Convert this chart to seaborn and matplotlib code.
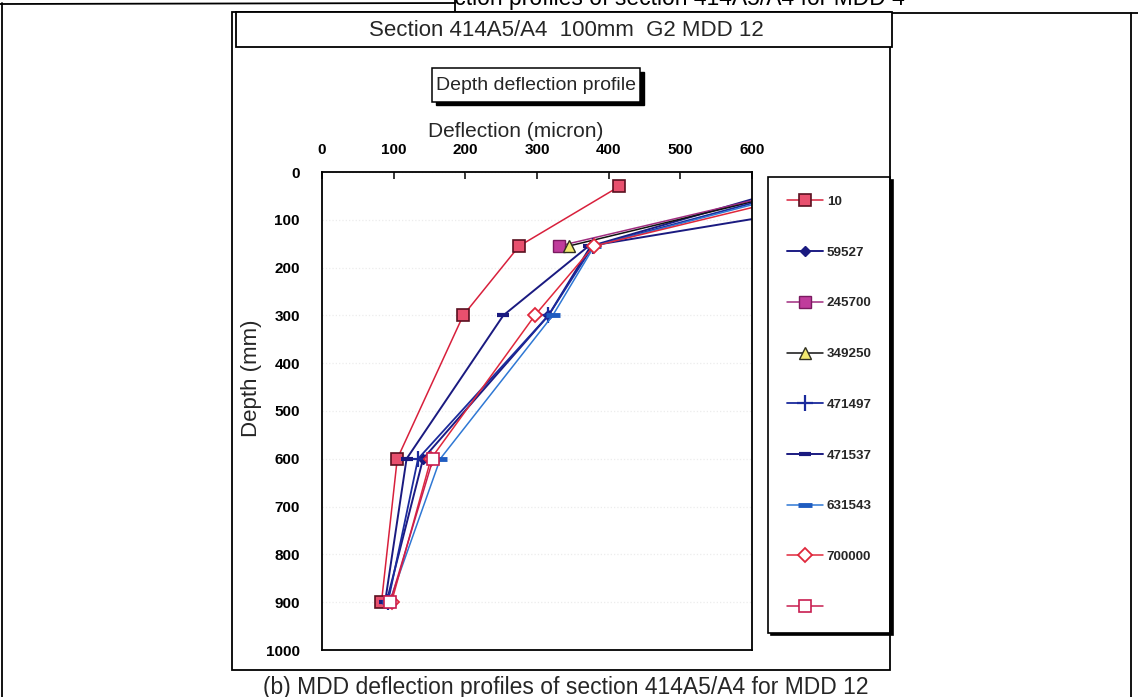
import numpy as np
import pandas as pd
import matplotlib
matplotlib.use("Agg")
import matplotlib.pyplot as plt
from matplotlib.patches import Rectangle
from matplotlib.lines import Line2D
import seaborn as sns

# ---------------- data ----------------
depth = [30, 155, 300, 600, 900]
series_names = ["10", "59527", "245700", "349250", "471497", "471537", "631543", "700000", ""]
defl_10 = [415, 275, 197, 105, 83]
defl_59527 = [662, 375, 316, 141, 90]
defl_245700 = [685, 330, np.nan, np.nan, np.nan]
defl_349250 = [690, 344, np.nan, np.nan, np.nan]
defl_471497 = [687, 378, 316, 134, 92]
defl_471537 = [877, 372, 253, 118, 88]
defl_631543 = [698, 380, 322, 165, 94]
defl_700000 = [722, 379, 297, 152, 97]
defl_blank = [np.nan, np.nan, np.nan, 155, 95]
x_ticks = [0, 100, 200, 300, 400, 500, 600]
y_ticks = [0, 100, 200, 300, 400, 500, 600, 700, 800, 900, 1000]

series_values = [defl_10, defl_59527, defl_245700, defl_349250, defl_471497,
                 defl_471537, defl_631543, defl_700000, defl_blank]

styles = [
    dict(color="#d8203c", marker="s", markersize=9, markerfacecolor="#e8506e", markeredgecolor="#5a1020", markeredgewidth=1.2, linewidth=1.1),
    dict(color="#1c1c84", marker="D", markersize=5.5, markerfacecolor="#1a1a80", markeredgecolor="#1a1a80", markeredgewidth=1.0, linewidth=1.4),
    dict(color="#a02c80", marker="s", markersize=8.5, markerfacecolor="#c03c9c", markeredgecolor="#7a1a60", markeredgewidth=1.0, linewidth=1.1),
    dict(color="#111111", marker="^", markersize=9, markerfacecolor="#f2e870", markeredgecolor="#303020", markeredgewidth=1.0, linewidth=1.1),
    dict(color="#1a2a9c", marker="+", markersize=11, markeredgecolor="#1a2a9c", markeredgewidth=1.6, linewidth=1.3),
    dict(color="#1a1a80", marker="_", markersize=8, markeredgecolor="#1a1a80", markeredgewidth=3, linewidth=1.4),
    dict(color="#2f78d4", marker="_", markersize=10, markeredgecolor="#1f5cc0", markeredgewidth=3.5, linewidth=1.1),
    dict(color="#e0283c", marker="D", markersize=7.5, markerfacecolor="white", markeredgecolor="#e0283c", markeredgewidth=1.3, linewidth=1.1),
    dict(color="#c81e50", marker="s", markersize=8, markerfacecolor="white", markeredgecolor="#c81e50", markeredgewidth=1.2, linewidth=1.1),
]

# ---------------- figure ----------------
sns.set_theme(style="white")
plt.rcParams["font.family"] = ["Liberation Sans", "DejaVu Sans"]

W, H = 1138, 697
fig = plt.figure(figsize=(W / 100, H / 100), dpi=100)


def fx(x):
    return x / W


def fy(y):
    return 1 - y / H


def fline(xs, ys, lw=1.3, color="black"):
    fig.add_artist(Line2D([fx(v) for v in xs], [fy(v) for v in ys], color=color, lw=lw,
                          transform=fig.transFigure, zorder=5))


# top caption of the previous figure, cut by the page edge
fig.text(fx(905), fy(-2), "(a) MDD deflection profiles of section 414A5/A4 for MDD 4",
         ha="right", va="center", fontsize=16.5, color="black", zorder=3)
fig.add_artist(Rectangle((0, fy(11)), fx(455), 1 - fy(11), facecolor="white", edgecolor="none",
                         transform=fig.transFigure, zorder=4))
fline([0, 455], [4, 3])
fline([455, 455], [0, 13])
fline([455, 1138], [13, 13])
fline([2, 2], [3, 697])
fline([1131, 1131], [13, 697])

# chart outer box & title box
fig.add_artist(Rectangle((fx(232), fy(670)), fx(890) - fx(232), fy(12) - fy(670), fill=False,
                         edgecolor="black", lw=1.3, transform=fig.transFigure, zorder=5))
fig.add_artist(Rectangle((fx(236), fy(47)), fx(892) - fx(236), fy(12) - fy(47), facecolor="white",
                         edgecolor="black", lw=1.3, transform=fig.transFigure, zorder=5))
fig.text(fx(566), fy(30), "Section 414A5/A4  100mm  G2 MDD 12", ha="center", va="center",
         fontsize=16, zorder=6)

# "Depth deflection profile" box with shadow
fig.add_artist(Rectangle((fx(436), fy(105)), fx(644) - fx(436), fy(72) - fy(105), facecolor="black",
                         edgecolor="black", lw=1, transform=fig.transFigure, zorder=5))
fig.add_artist(Rectangle((fx(432), fy(102)), fx(640) - fx(432), fy(68) - fy(102), facecolor="white",
                         edgecolor="black", lw=1.1, transform=fig.transFigure, zorder=5))
fig.text(fx(536), fy(86), "Depth deflection profile", ha="center", va="center", fontsize=14, zorder=6)

# bottom caption (cut by the page edge)
fig.text(fx(566), fy(676), "(b) MDD deflection profiles of section 414A5/A4 for MDD 12",
         ha="center", va="top", fontsize=16.5)

# ---------------- axes ----------------
ax_l, ax_r, ax_t, ax_b = 322, 752, 172, 650
ax = fig.add_axes([fx(ax_l), fy(ax_b), fx(ax_r) - fx(ax_l), fy(ax_t) - fy(ax_b)])
ax.set_facecolor("white")

handles = []
for name, vals, st in zip(series_names, series_values, styles):
    df = pd.DataFrame({"Deflection": vals, "Depth": depth}).dropna()
    sns.lineplot(data=df, x="Deflection", y="Depth", sort=False, estimator=None, errorbar=None,
                 ax=ax, legend=False, **st)
    handles.append(Line2D([], [], **st))

ax.set_xlim(0, 600)
ax.set_ylim(1000, 0)
ax.set_xticks(x_ticks)
ax.set_yticks(y_ticks)
ax.xaxis.tick_top()
ax.xaxis.set_label_position("top")
ax.tick_params(axis="x", direction="in", length=5, width=1.1, pad=11, labelsize=11, colors="black")
ax.tick_params(axis="y", direction="in", length=5, width=1.1, pad=16, labelsize=11, colors="black")
for lab in ax.get_xticklabels() + ax.get_yticklabels():
    lab.set_fontweight("bold")
ax.yaxis.grid(True, color="#ececec", linestyle=":", linewidth=0.9)
ax.xaxis.grid(False)
for sp in ax.spines.values():
    sp.set_visible(True)
    sp.set_color("black")
    sp.set_linewidth(1.3)

ax.set_xlabel("Deflection (micron)", fontsize=15)
ax.xaxis.set_label_coords((516 - ax_l) / (ax_r - ax_l), (ax_b - 137) / (ax_b - ax_t))
ax.set_ylabel("Depth (mm)", fontsize=16)
ax.yaxis.set_label_coords((262 - ax_l) / (ax_r - ax_l), (ax_b - 378) / (ax_b - ax_t))

# ---------------- legend ----------------
leg = ax.legend(handles, series_names, loc="upper left",
                bbox_to_anchor=(fx(768), fy(177)), bbox_transform=fig.transFigure,
                borderaxespad=0, frameon=True, fancybox=False, shadow={"color": "black", "alpha": 1},
                labelspacing=2.88, handlelength=2.7, handletextpad=0.3,
                borderpad=1.4, prop={"weight": "bold", "size": 9.6})
leg.get_frame().set_edgecolor("black")
leg.get_frame().set_linewidth(1.2)

fig.savefig("out.png", dpi=100)
